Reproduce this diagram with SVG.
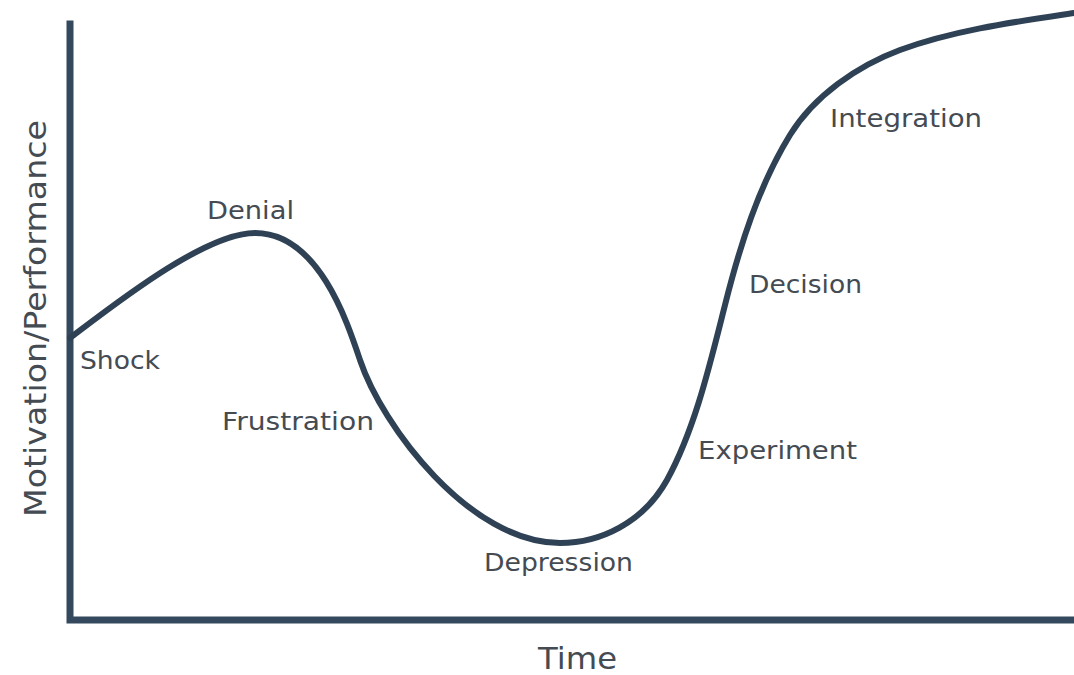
<svg xmlns="http://www.w3.org/2000/svg" width="1074" height="675" viewBox="0 0 1074 675">
<style>
.axis{stroke:#34495e;stroke-width:7;fill:none;stroke-linecap:square}
.curve{stroke:#2f4255;stroke-width:6;fill:none;stroke-linecap:round;stroke-linejoin:round}
.lbl{font-family:"DejaVu Sans","Liberation Sans",sans-serif;font-size:25px;fill:#454b52}
.ax{font-family:"DejaVu Sans","Liberation Sans",sans-serif;font-size:31px;fill:#454b52}
</style>
<rect width="1074" height="675" fill="#ffffff"/>
<g id="connectors">
<path class="axis" d="M70,24 V620 H1074"/>
<path class="curve" d="M70,338 C115,304 205,233 255,233 C318,233 347,321 360,360 C382,426 470,543 560,543 C600,543 643,523 667,480 C695,429 710,364 725,305 C739.6,246.8 758.6,186 790,135 C814,96 857,66 900,50 C954.4,30 1016.6,21.6 1074,13"/>
</g>
<g id="axis-y-label"><text class="ax" transform="translate(46,517) rotate(-90)" textLength="397" lengthAdjust="spacingAndGlyphs">Motivation/Performance</text></g>
<g id="axis-x-label"><text class="ax" x="538" y="669" textLength="79" lengthAdjust="spacingAndGlyphs">Time</text></g>
<g id="shock"><text class="lbl" x="80" y="369" textLength="80" lengthAdjust="spacingAndGlyphs">Shock</text></g>
<g id="denial"><text class="lbl" x="207" y="219" textLength="87" lengthAdjust="spacingAndGlyphs">Denial</text></g>
<g id="frustration"><text class="lbl" x="222" y="430" textLength="152" lengthAdjust="spacingAndGlyphs">Frustration</text></g>
<g id="depression"><text class="lbl" x="484" y="571" textLength="149" lengthAdjust="spacingAndGlyphs">Depression</text></g>
<g id="experiment"><text class="lbl" x="698" y="459" textLength="159" lengthAdjust="spacingAndGlyphs">Experiment</text></g>
<g id="decision"><text class="lbl" x="749" y="293" textLength="113" lengthAdjust="spacingAndGlyphs">Decision</text></g>
<g id="integration"><text class="lbl" x="830" y="127" textLength="152" lengthAdjust="spacingAndGlyphs">Integration</text></g>
</svg>
